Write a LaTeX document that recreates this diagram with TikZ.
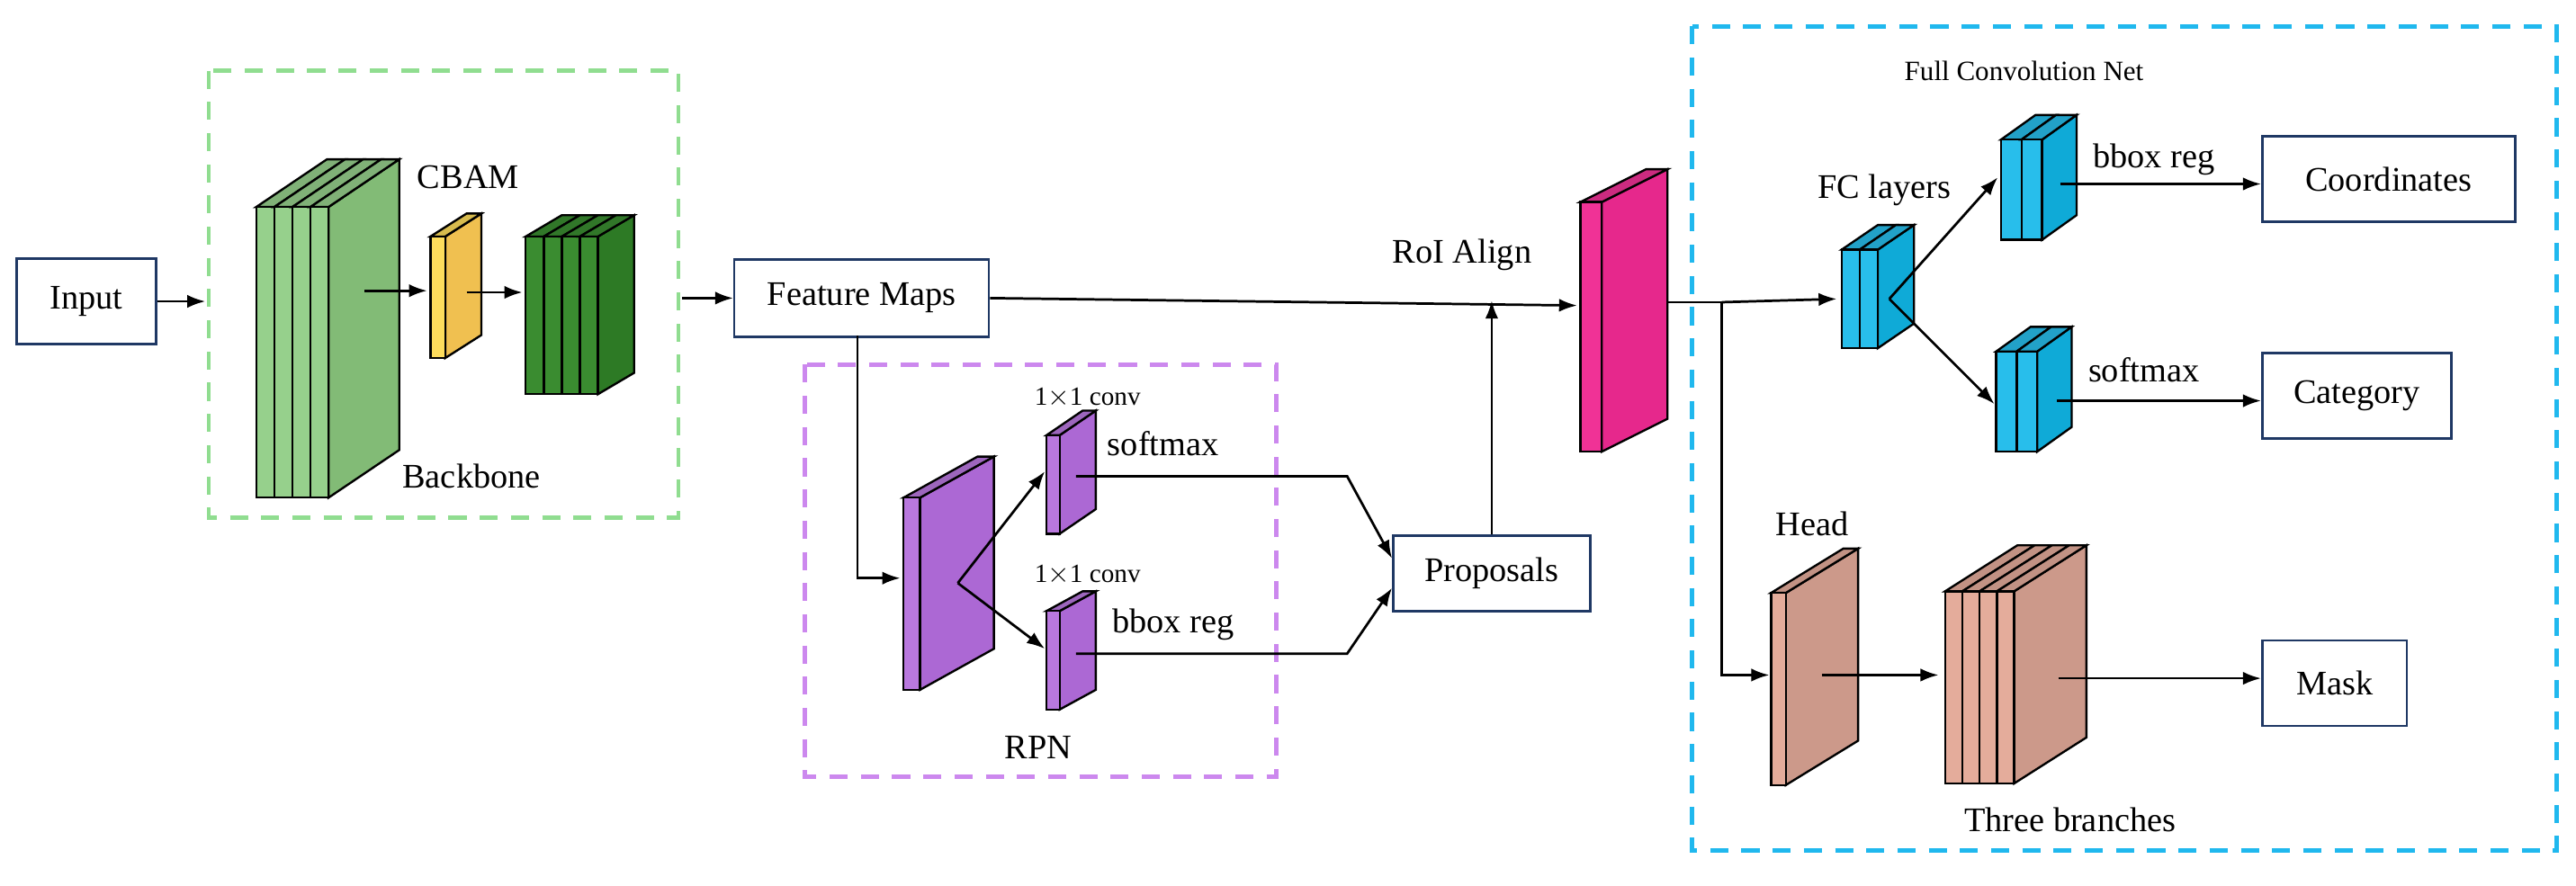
\documentclass[tikz,border=0pt]{standalone}
\usepackage{fontspec}
\setmainfont{Liberation Serif}
\usetikzlibrary{arrows.meta}
\definecolor{navy}{HTML}{1F3864}
\definecolor{dgreen}{RGB}{144,221,144}
\definecolor{dpurple}{RGB}{204,136,238}
\definecolor{dblue}{RGB}{32,184,238}
\definecolor{lgF}{RGB}{150,208,140}\definecolor{lgS}{RGB}{130,187,118}
\definecolor{yeF}{RGB}{253,220,92}\definecolor{yeS}{RGB}{240,192,80}
\definecolor{dgF}{RGB}{58,140,48}\definecolor{dgS}{RGB}{45,122,37}
\definecolor{pkF}{RGB}{240,50,150}\definecolor{pkS}{RGB}{230,40,140}
\definecolor{puF}{RGB}{185,120,222}\definecolor{puS}{RGB}{172,104,212}
\definecolor{blF}{RGB}{40,190,235}\definecolor{blS}{RGB}{15,170,215}
\definecolor{brF}{RGB}{228,172,155}\definecolor{brS}{RGB}{204,153,138}
\newcommand\cubeblk[9]{% x0, top, s, n, h, dx, dy, front, side
  \pgfmathsetmacro\cx{#1+#3*#4}
  \fill[#9,draw=black,line width=1.3pt] (\cx,#2)--(\cx+#6,#2-#7)--(\cx+#6,#2-#7+#5)--(\cx,#2+#5)--cycle;
  \foreach \i in {1,...,#4}{
    \pgfmathsetmacro\xa{#1+#3*(\i-1)}
    \pgfmathsetmacro\xb{#1+#3*\i}
    \fill[#8!85!black,draw=black,line width=1.3pt] (\xa,#2)--(\xa+#6,#2-#7)--(\xb+#6,#2-#7)--(\xb,#2)--cycle;
    \fill[#8,draw=black,line width=1.3pt] (\xa,#2) rectangle (\xb,#2+#5);
  }}
\tikzset{
  box/.style={draw=navy,line width=1.4pt,minimum height=52pt,inner sep=0pt,align=center},
  dbox/.style={line width=2.6pt,dash pattern=on 11pt off 8pt},
  arr/.style={-{Latex[length=11pt,width=8pt]},line width=1.5pt},
  ln/.style={line width=1.5pt},
  lbl/.style={inner sep=0pt},
  small/.style={font=\fontsize{16}{18}\selectfont,inner sep=0pt}
}
\begin{document}
\begin{tikzpicture}[x=1pt,y=-1pt,font=\fontsize{21}{24}\selectfont]
\useasboundingbox (0,0) rectangle (1568,539);
% dashed regions
\draw[dbox,draw=dgreen] (127,43) rectangle (413,315);
\draw[dbox,draw=dpurple] (490,222) rectangle (777,473);
\draw[dbox,draw=dblue] (1030,16) rectangle (1556,518);
% boxes
\node[box,minimum width=85pt] (in) at (52.5,183.5) {Input};
\node[box,minimum width=155pt,minimum height=47pt] (fm) at (524.5,181.5) {Feature Maps};
\node[box,minimum width=120pt,minimum height=46pt] (prop) at (908,349) {Proposals};
\node[box,minimum width=154pt] (coord) at (1454,109) {Coordinates};
\node[box,minimum width=115pt] (cat) at (1434.5,241) {Category};
\node[box,minimum width=88pt] (mask) at (1421,416) {Mask};
% blocks
\cubeblk{156}{126}{11}{4}{177}{43}{29}{lgF}{lgS}
\cubeblk{262}{144}{9}{1}{74}{22}{14}{yeF}{yeS}
\cubeblk{320}{144}{11}{4}{96}{22}{13}{dgF}{dgS}
\cubeblk{962}{123}{13}{1}{152}{40}{20}{pkF}{pkS}
\cubeblk{550}{303}{10}{1}{117}{45}{25}{puF}{puS}
\cubeblk{637}{265}{8}{1}{60}{22}{15}{puF}{puS}
\cubeblk{637}{372}{8}{1}{60}{22}{12}{puF}{puS}
\cubeblk{1121}{152}{11}{2}{60}{22}{15}{blF}{blS}
\cubeblk{1218}{85}{12.5}{2}{61}{21}{15}{blF}{blS}
\cubeblk{1215}{214}{12.5}{2}{61}{21}{15}{blF}{blS}
\cubeblk{1078}{361}{9}{1}{117}{44}{27}{brF}{brS}
\cubeblk{1184}{360}{10.5}{4}{117}{44}{28}{brF}{brS}
% coordinates
\coordinate (gdin) at (125,183.5);
\coordinate (g1) at (222,177); \coordinate (y1) at (260,177);
\coordinate (y2) at (284,178); \coordinate (dg) at (318,178);
\coordinate (gdout) at (415,181.5); \coordinate (roi) at (960,186);
\coordinate (fmb) at (522,204.5); \coordinate (fmc) at (522,352); \coordinate (pb) at (548,352);
\coordinate (ps) at (583,355); \coordinate (pu) at (636,287); \coordinate (pl) at (636,395);
\coordinate (pus) at (655,290); \coordinate (puc) at (820,290);
\coordinate (pls) at (655,398); \coordinate (plc) at (820,398);
\coordinate (pink) at (1015,184); \coordinate (sp) at (1048,184);
\coordinate (fc) at (1118,182); \coordinate (hd) at (1048,411); \coordinate (hdb) at (1077,411);
\coordinate (fcs) at (1150,182); \coordinate (bu) at (1216,108); \coordinate (bl) at (1214,246);
\coordinate (bus) at (1254,112); \coordinate (bls) at (1252,244);
\coordinate (hs) at (1109,411); \coordinate (tb) at (1180,411); \coordinate (tbs) at (1253,413);
% connectors
\draw[arr] (in.east) -- (gdin);
\draw[arr] (g1) -- (y1);
\draw[arr] (y2) -- (dg);
\draw[arr] (gdout) -- (fm.west);
\draw[arr] (fm.east) -- (roi);
\draw[arr] (prop.north) -- (prop.north |- 0,183);
\draw[arr] (fmb) -- (fmc) -- (pb);
\draw[arr] (ps) -- (pu);
\draw[arr] (ps) -- (pl);
\draw[arr] (pus) -- (puc) -- (prop.west |- 0,340);
\draw[arr] (pls) -- (plc) -- (prop.west |- 0,358);
\draw[ln] (pink) -- (sp);
\draw[arr] (sp) -- (fc);
\draw[arr] (sp) -- (hd) -- (hdb);
\draw[arr] (fcs) -- (bu);
\draw[arr] (fcs) -- (bl);
\draw[arr] (bus) -- (coord.west |- bus);
\draw[arr] (bls) -- (cat.west |- bls);
\draw[arr] (hs) -- (tb);
\draw[arr] (tbs) -- (mask.west |- tbs);
% labels
\node[lbl] (t1) at (285,108) {CBAM};
\node[lbl] (t2) at (287,290) {Backbone};
\node[lbl] (t3) at (890,155) {RoI Align};
\node[small] (t4) at (662,242) {1$\times$1 conv};
\node[small] (t5) at (662,350) {1$\times$1 conv};
\node[lbl] (t6) at (708,270) {softmax};
\node[lbl] (t7) at (714,380) {bbox reg};
\node[lbl] (t8) at (632,455) {RPN};
\node[small,font=\fontsize{17}{19}\selectfont] (t9) at (1232,43) {Full Convolution Net};
\node[lbl] (t10) at (1147,116) {FC layers};
\node[lbl] (t11) at (1311,97) {bbox reg};
\node[lbl] (t12) at (1305,225) {softmax};
\node[lbl] (t13) at (1103,319) {Head};
\node[lbl] (t14) at (1260,499) {Three branches};
\end{tikzpicture}
\end{document}
